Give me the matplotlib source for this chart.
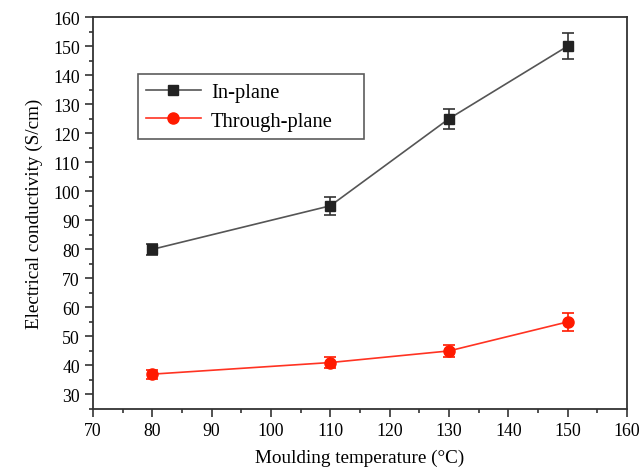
import matplotlib
matplotlib.use("Agg")
import matplotlib.pyplot as plt
from matplotlib.lines import Line2D
from matplotlib.ticker import MultipleLocator

# Data
temperature = [80, 110, 130, 150]
in_plane = [80, 95, 125, 150]
in_plane_err = [2.0, 3.0, 3.5, 4.5]
through_plane = [37, 41, 45, 55]
through_plane_err = [1.5, 1.8, 2.0, 3.0]

plt.rcParams["font.family"] = ["Liberation Serif", "DejaVu Serif"]

fig = plt.figure(figsize=(6.43, 4.77), dpi=100)
ax = fig.add_axes([0.1446, 0.1405, 0.8305, 0.8215])

black_style = dict(color="#555555", marker="s", markersize=7,
                   markerfacecolor="#222222", markeredgecolor="#222222",
                   linewidth=1.2)
red_style = dict(color="#ff3322", marker="o", markersize=8,
                 markerfacecolor="#ff1a00", markeredgecolor="#ff1a00",
                 linewidth=1.2)

ax.errorbar(temperature, in_plane, yerr=in_plane_err, ecolor="#333333",
            elinewidth=1.2, capsize=4, capthick=1.2, **black_style)
ax.errorbar(temperature, through_plane, yerr=through_plane_err,
            ecolor="#ff1a00", elinewidth=1.2, capsize=4, capthick=1.2,
            **red_style)

ax.set_xlim(70, 160)
ax.set_ylim(25, 160)
ax.xaxis.set_major_locator(MultipleLocator(10))
ax.xaxis.set_minor_locator(MultipleLocator(5))
ax.yaxis.set_major_locator(MultipleLocator(10))
ax.yaxis.set_minor_locator(MultipleLocator(5))
ax.tick_params(which="major", direction="out", length=6, width=1.2,
               labelsize=12.8, color="#333333")
ax.tick_params(which="minor", direction="out", length=3, width=1.2,
               color="#333333")
for spine in ax.spines.values():
    spine.set_linewidth(1.3)
    spine.set_color("#333333")

ax.set_xlabel("Moulding temperature (°C)", fontsize=13.8, labelpad=7)
ax.set_ylabel("Electrical conductivity (S/cm)", fontsize=13.8, labelpad=7)

# legend box stretched to the width seen in the reference
handles = [Line2D([], [], **black_style), Line2D([], [], **red_style)]
leg = ax.legend(handles, ["In-plane", "Through-plane"], loc="upper left",
                bbox_to_anchor=(0.0843, 0.6964, 0.423, 0.1582), mode="expand",
                fontsize=14.8, fancybox=False, edgecolor="#333333",
                handlelength=2.65, handletextpad=0.5, borderpad=0.4,
                labelspacing=0.46, borderaxespad=0)
leg.get_frame().set_linewidth(1.2)

fig.savefig("out.png", dpi=100)
